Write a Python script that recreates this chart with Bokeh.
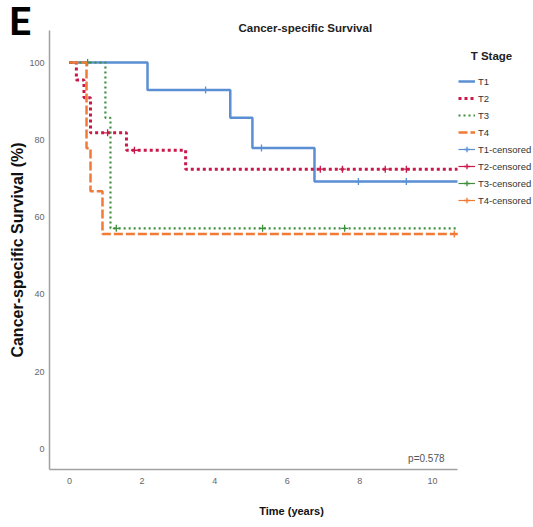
from bokeh.plotting import figure
from bokeh.models import Range1d, Label, Legend, LegendItem, FixedTicker, Title
from bokeh.embed import file_html
from bokeh.resources import INLINE

# ---------------- data ----------------
stages = ["T1", "T2", "T3", "T4"]

t1_time = [0, 2.15, 4.43, 5.04, 6.75, 10.69]
t1_surv = [100, 92.9, 85.7, 77.9, 69.2, 69.2]
t1_cens_time = [3.75, 5.29, 7.96, 9.28]
t1_cens_surv = [92.9, 77.9, 69.2, 69.2]

t2_time = [0, 0.19, 0.40, 0.58, 1.57, 3.20, 10.69]
t2_surv = [100, 95.5, 90.9, 81.8, 77.3, 72.4, 72.4]
t2_cens_time = [1.05, 1.79, 6.91, 7.52, 8.70, 9.28]
t2_cens_surv = [81.8, 77.3, 72.4, 72.4, 72.4, 72.4]

t3_time = [0, 0.99, 1.13, 10.69]
t3_surv = [100, 85.7, 57.1, 57.1]
t3_cens_time = [0.50, 1.29, 5.32, 7.58]
t3_cens_surv = [100, 57.1, 57.1, 57.1]

t4_time = [0, 0.47, 0.58, 0.91, 10.69]
t4_surv = [100, 77.8, 66.7, 55.6, 55.6]
t4_cens_time = [10.6]
t4_cens_surv = [55.6]

x_ticks = [0, 2, 4, 6, 8, 10]
y_ticks = [0, 20, 40, 60, 80, 100]
x_axis_bounds = (-0.55, 10.69)
y_axis_bounds = (-5.3, 108.3)
p_value_text = "p=0.578"

# ---------------- styles ----------------
FONT = "Liberation Sans"
colors = {"T1": "#5b8fd3", "T2": "#c9184a", "T3": "#3f8f3f", "T4": "#f07a36"}
dashes = {"T1": "solid", "T2": "3 3", "T3": "2 3", "T4": "9 3"}
widths = {"T1": 2.5, "T2": 3, "T3": 2.2, "T4": 2.5}

W, H = 533, 527
FL, FT, FB = 49, 30, 469
PX_PER_X = 36.3
PX_PER_Y = 3.865

x_end = x_axis_bounds[0] + (W - FL) / PX_PER_X
y_end = y_axis_bounds[0] + (FB - FT) / PX_PER_Y

p = figure(width=W, height=H, output_backend="svg", toolbar_location=None,
           x_range=Range1d(x_axis_bounds[0], x_end), y_range=Range1d(y_axis_bounds[0], y_end),
           min_border_left=FL, min_border_right=0,
           min_border_top=FT, min_border_bottom=H - FB)
p.outline_line_color = None
p.xgrid.visible = False
p.ygrid.visible = False
p.background_fill_color = "white"
p.border_fill_color = "white"

for ax in (p.xaxis[0], p.yaxis[0]):
    ax.axis_line_color = "#a0a0a0"
    ax.axis_line_width = 1.5
    ax.major_tick_line_color = None
    ax.minor_tick_line_color = None
    ax.major_tick_out = 0
    ax.major_tick_in = 0
    ax.minor_tick_out = 0
    ax.minor_tick_in = 0
    ax.major_label_text_font = FONT
    ax.major_label_text_font_size = "9px"
    ax.major_label_text_color = "#666666"
    ax.axis_label_text_font = FONT
    ax.axis_label_text_font_style = "bold"
    ax.axis_label_text_color = "#111111"

p.xaxis.bounds = x_axis_bounds
p.yaxis.bounds = y_axis_bounds
p.xaxis.ticker = FixedTicker(ticks=x_ticks)
p.yaxis.ticker = FixedTicker(ticks=y_ticks)
p.xaxis.major_label_standoff = 8
p.yaxis.major_label_standoff = 5
p.xaxis.axis_label = "Time (years)"
p.xaxis.axis_label_text_font_size = "11px"
p.xaxis.axis_label_standoff = 18
p.yaxis.axis_label = "Cancer-specific Survival (%)"
p.yaxis.axis_label_text_font_size = "16px"
p.yaxis.axis_label_standoff = 0

series = {
    "T1": (t1_time, t1_surv, t1_cens_time, t1_cens_surv),
    "T2": (t2_time, t2_surv, t2_cens_time, t2_cens_surv),
    "T3": (t3_time, t3_surv, t3_cens_time, t3_cens_surv),
    "T4": (t4_time, t4_surv, t4_cens_time, t4_cens_surv),
}

renderers = {}
for s in stages:
    tt, ss, ct, cs = series[s]
    r = p.step(tt, ss, mode="after", line_color=colors[s], line_width=widths[s],
               line_dash=dashes[s])
    c = p.scatter(ct, cs, marker="cross", size=7, line_color=colors[s], line_width=1.3)
    # thin solid copy of the curve, hidden in the plot, only used as legend key
    d = p.step(tt, ss, mode="after", line_color=colors[s], line_width=1.2, visible=False)
    renderers[s] = (r, c, d)

items = [LegendItem(label=s, renderers=[renderers[s][0]]) for s in stages]
items += [LegendItem(label=s + "-censored", renderers=[renderers[s][2], renderers[s][1]])
          for s in stages]

legend = Legend(items=items, location=(458 - FL, FB - 207),
                orientation="vertical", padding=0, margin=0, spacing=3,
                glyph_height=14, glyph_width=17, label_height=14, label_standoff=3,
                label_text_font=FONT, label_text_font_size="9.5px",
                label_text_color="#333333", border_line_color=None,
                background_fill_alpha=0, click_policy="none")
p.add_layout(legend)

def lab(text, xc, yc, size, style="normal", color="#111111", align="center"):
    return Label(x=xc - FL, y=FB - yc, x_units="screen", y_units="screen", text=text,
                 text_font=FONT, text_font_size=size, text_font_style=style,
                 text_color=color, text_align=align, text_baseline="middle")

p.add_layout(lab("T Stage", 491, 55, "11.5px", "bold", "#222222"))
p.add_layout(lab(p_value_text, 444, 458, "10px", "normal", "#555555", "right"))

main_title = Title(text="Cancer-specific Survival", align="left", offset=189, standoff=-9,
                   vertical_align="middle", text_font=FONT, text_font_size="11.5px",
                   text_font_style="bold", text_color="#222222")
p.add_layout(main_title, "above")
e_title = Title(text="E", align="left", offset=-40, standoff=-39, vertical_align="middle",
                text_font="Roboto", text_font_size="38px", text_font_style="bold",
                text_color="#000000")
p.add_layout(e_title, "above")

open("out.html", "w").write(file_html(p, INLINE))
